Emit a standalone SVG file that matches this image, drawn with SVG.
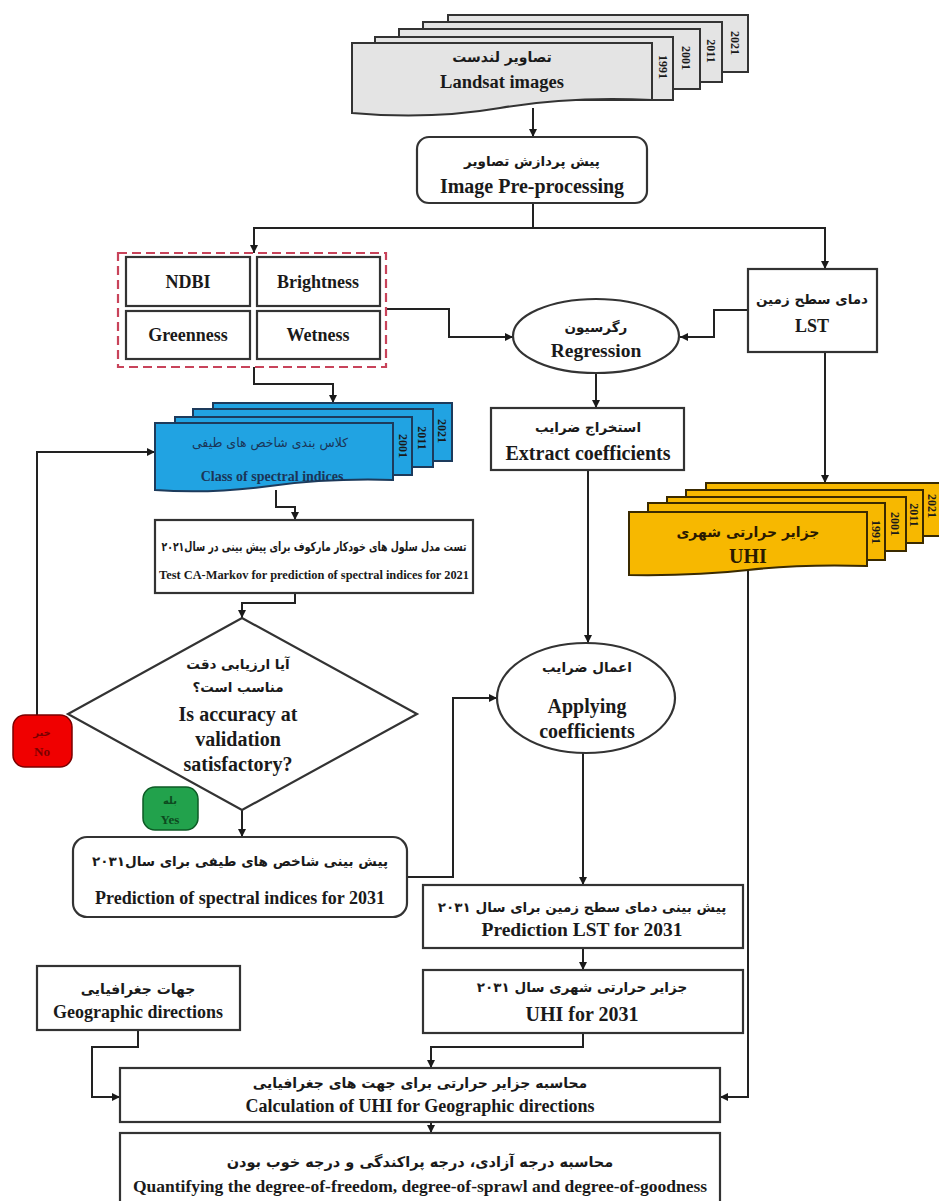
<svg xmlns="http://www.w3.org/2000/svg" width="939" height="1201" viewBox="0 0 939 1201">
<defs>
<marker id="ah" viewBox="0 0 10 10" refX="10" refY="5" markerWidth="8" markerHeight="8" markerUnits="userSpaceOnUse" orient="auto">
<path d="M0,0 L10,5 L0,10 z" fill="#1a1a1a"/>
</marker>
</defs>
<style>
.bx{fill:#fff;stroke:#333;stroke-width:2.2}
.t{font-family:"Liberation Serif","DejaVu Sans",serif;font-weight:bold;fill:#1a1a1a;text-anchor:middle}
.en{font-size:19px}
.fa{font-size:13.5px;font-family:"DejaVu Sans","Noto Sans",sans-serif}
.yr{font-family:"Liberation Serif",serif;font-weight:bold;font-size:12px;fill:#1a1a1a;text-anchor:middle}
.gray{fill:#e4e4e4;stroke:#333;stroke-width:2}
.blue{fill:#21a3e2;stroke:#1d3b5c;stroke-width:2}
.gold{fill:#f7b800;stroke:#3a2a00;stroke-width:2}
.c{fill:none;stroke:#222;stroke-width:2}
</style>

<g id="connectors">
<path class="c" d="M533,108 V137" marker-end="url(#ah)"/>
<path class="c" d="M533,203 V228 H254 V253" marker-end="url(#ah)"/>
<path class="c" d="M533,228 H825 V269" marker-end="url(#ah)"/>
<path class="c" d="M386,309 H449 V337 H513" marker-end="url(#ah)"/>
<path class="c" d="M748,310 H714 V337 H680" marker-end="url(#ah)"/>
<path class="c" d="M596,373 V408" marker-end="url(#ah)"/>
<path class="c" d="M825,352 V483" marker-end="url(#ah)"/>
<path class="c" d="M254,367 V384 H333 V403" marker-end="url(#ah)"/>
<path class="c" d="M276,490 V507 H295 V520" marker-end="url(#ah)"/>
<path class="c" d="M295,593 V603 H242 V618" marker-end="url(#ah)"/>
<path class="c" d="M37,715 V452 H155" marker-end="url(#ah)"/>
<path class="c" d="M242,810 V837" marker-end="url(#ah)"/>
<path class="c" d="M407,877 H453 V698 H497" marker-end="url(#ah)"/>
<path class="c" d="M588,470 V643" marker-end="url(#ah)"/>
<path class="c" d="M583,753 V885" marker-end="url(#ah)"/>
<path class="c" d="M583,948 V970" marker-end="url(#ah)"/>
<path class="c" d="M583,1033 V1047 H431 V1068" marker-end="url(#ah)"/>
<path class="c" d="M138,1030 V1047 H92 V1097 H120" marker-end="url(#ah)"/>
<path class="c" d="M748,568 V1097 H720" marker-end="url(#ah)"/>
<path class="c" d="M431,1122 V1133" marker-end="url(#ah)"/>
</g>

<g id="landsat">
<rect class="gray" x="448" y="15" width="300" height="57"/>
<rect class="gray" x="423" y="22" width="299" height="60"/>
<rect class="gray" x="399" y="29" width="301" height="60"/>
<rect class="gray" x="375" y="37" width="298" height="63"/>
<path class="gray" d="M352,43 H652 V100 Q570,96 500,108 T352,113 Z"/>
<text class="yr" transform="translate(659,67) rotate(90)">1991</text>
<text class="yr" transform="translate(682,58) rotate(90)">2001</text>
<text class="yr" transform="translate(707,51) rotate(90)">2011</text>
<text class="yr" transform="translate(731,43) rotate(90)">2021</text>
<text class="t fa" x="502" y="62" style="font-size:14px">تصاویر لندست</text>
<text class="t en" x="502" y="88" style="font-size:18.5px">Landsat images</text>
</g>

<g id="preprocessing">
<rect class="bx" x="417" y="137" width="230" height="66" rx="12"/>
<text class="t fa" x="532" y="166">پیش پردازش تصاویر</text>
<text class="t en" x="532" y="193" style="font-size:20px">Image Pre-processing</text>
</g>

<g id="indices">
<rect x="118" y="253" width="268" height="114" fill="none" stroke="#c8435a" stroke-width="2.2" stroke-dasharray="9,5"/>
<rect class="bx" x="126" y="257" width="124" height="49"/>
<rect class="bx" x="257" y="257" width="123" height="49"/>
<rect class="bx" x="126" y="311" width="124" height="48"/>
<rect class="bx" x="257" y="311" width="123" height="48"/>
<text class="t" x="188" y="288" font-size="18">NDBI</text>
<text class="t" x="318" y="288" font-size="18">Brightness</text>
<text class="t" x="188" y="341" font-size="18">Greenness</text>
<text class="t" x="318" y="341" font-size="18">Wetness</text>
</g>

<g id="lst">
<rect class="bx" x="748" y="269" width="129" height="83"/>
<text class="t fa" x="812" y="304">دمای سطح زمین</text>
<text class="t en" x="812" y="332" style="font-size:18px">LST</text>
</g>

<g id="regression">
<ellipse class="bx" cx="596" cy="336" rx="83" ry="37"/>
<text class="t fa" x="596" y="332">رگرسیون</text>
<text class="t en" x="596" y="357" style="font-size:19.5px">Regression</text>
</g>

<g id="extract">
<rect class="bx" x="491" y="408" width="193" height="62"/>
<text class="t fa" x="588" y="432">استخراج ضرایب</text>
<text class="t en" x="588" y="460" style="font-size:20px">Extract coefficients</text>
</g>

<g id="class-spectral">
<rect class="blue" x="213" y="403" width="239" height="58"/>
<rect class="blue" x="193" y="409" width="240" height="58"/>
<rect class="blue" x="175" y="417" width="237" height="58"/>
<path class="blue" d="M155,423 H393 V480 Q330,478 270,486 T155,490 Z"/>
<text class="yr" transform="translate(399,446) rotate(90)">2001</text>
<text class="yr" transform="translate(418,438) rotate(90)">2011</text>
<text class="yr" transform="translate(438,431) rotate(90)">2021</text>
<text class="t" x="270" y="447" font-size="12.5" style="font-family:'DejaVu Sans',sans-serif;font-weight:normal;fill:#1b3557">کلاس بندی شاخص های طیفی</text>
<text class="t" x="272" y="481" font-size="14" style="fill:#1b3557">Class of spectral indices</text>
</g>

<g id="uhi">
<rect class="gold" x="706" y="483" width="240" height="53"/>
<rect class="gold" x="686" y="490" width="237" height="53"/>
<rect class="gold" x="667" y="497" width="239" height="54"/>
<rect class="gold" x="648" y="503" width="237" height="57"/>
<path class="gold" d="M629,512 H867 V566 Q800,564 748,570 T629,575 Z"/>
<text class="yr" transform="translate(872,532) rotate(90)">1991</text>
<text class="yr" transform="translate(891,524) rotate(90)">2001</text>
<text class="yr" transform="translate(910,515) rotate(90)">2011</text>
<text class="yr" transform="translate(928,506) rotate(90)">2021</text>
<text class="t fa" x="748" y="537" style="font-size:14px;fill:#2a1a00">جزایر حرارتی شهری</text>
<text class="t en" x="748" y="563" style="font-size:20px;fill:#2a1a00">UHI</text>
</g>

<g id="camarkov">
<rect class="bx" x="155" y="520" width="318" height="73"/>
<text class="t fa" x="314" y="551" textLength="305" lengthAdjust="spacingAndGlyphs" style="font-size:12.5px">تست مدل سلول های خودکار مارکوف برای پیش بینی در سال۲۰۲۱</text>
<text class="t" x="314" y="579" font-size="12.4">Test CA-Markov for prediction of spectral indices for 2021</text>
</g>

<g id="decision">
<polygon class="bx" points="242,618 417,714 242,810 68,714"/>
<text class="t fa" x="238" y="669">آیا ارزیابی دقت</text>
<text class="t fa" x="238" y="692">مناسب است؟</text>
<text class="t en" x="238" y="721" style="font-size:20px">Is accuracy at</text>
<text class="t en" x="238" y="746" style="font-size:20px">validation</text>
<text class="t en" x="238" y="771" style="font-size:20px">satisfactory?</text>
</g>

<g id="no">
<rect x="13" y="715" width="59" height="52" rx="12" fill="#f00000" stroke="#7a0000" stroke-width="1.5"/>
<text class="t" x="42" y="736" font-size="10" style="font-family:'DejaVu Sans',sans-serif;fill:#7a0000">خیر</text>
<text class="t" x="42" y="756" font-size="13" style="fill:#7a0000">No</text>
</g>

<g id="yes">
<rect x="143" y="787" width="55" height="43" rx="12" fill="#22a24c" stroke="#0d5a25" stroke-width="1.5"/>
<text class="t" x="170" y="804" font-size="10" style="font-family:'DejaVu Sans',sans-serif;fill:#0d4a1f">بله</text>
<text class="t" x="170" y="824" font-size="13" style="fill:#0d4a1f">Yes</text>
</g>

<g id="pred-indices">
<rect class="bx" x="73" y="837" width="334" height="80" rx="14"/>
<text class="t fa" x="240" y="866">پیش بینی شاخص های طیفی برای سال۲۰۳۱</text>
<text class="t" x="240" y="904" font-size="18">Prediction of spectral indices for 2031</text>
</g>

<g id="applying">
<ellipse class="bx" cx="586" cy="698" rx="89" ry="55"/>
<text class="t fa" x="587" y="672">اعمال ضرایب</text>
<text class="t en" x="587" y="713" style="font-size:20px">Applying</text>
<text class="t en" x="587" y="738" style="font-size:20px">coefficients</text>
</g>

<g id="pred-lst">
<rect class="bx" x="423" y="885" width="320" height="63"/>
<text class="t fa" x="582" y="912">پیش بینی دمای سطح زمین برای سال ۲۰۳۱</text>
<text class="t en" x="582" y="936" style="font-size:19.5px">Prediction LST for 2031</text>
</g>

<g id="uhi2031">
<rect class="bx" x="423" y="970" width="320" height="63"/>
<text class="t fa" x="582" y="992">جزایر حرارتی شهری سال ۲۰۳۱</text>
<text class="t en" x="582" y="1021" style="font-size:20px">UHI for 2031</text>
</g>

<g id="geo">
<rect class="bx" x="37" y="966" width="203" height="64"/>
<text class="t fa" x="138" y="994" style="font-size:14px">جهات جغرافیایی</text>
<text class="t en" x="138" y="1018" style="font-size:18px">Geographic directions</text>
</g>

<g id="calc">
<rect class="bx" x="120" y="1068" width="600" height="54"/>
<text class="t fa" x="420" y="1088" style="font-size:14px">محاسبه جزایر حرارتی برای جهت های جغرافیایی</text>
<text class="t" x="420" y="1112" font-size="18">Calculation of UHI for Geographic directions</text>
</g>

<g id="quantify">
<rect class="bx" x="120" y="1133" width="600" height="70"/>
<text class="t fa" x="420" y="1167" style="font-size:14.5px">محاسبه درجه آزادی، درجه پراکندگی و درجه خوب بودن</text>
<text class="t" x="420" y="1192" font-size="17.5">Quantifying the degree-of-freedom, degree-of-sprawl and degree-of-goodness</text>
</g>
</svg>
